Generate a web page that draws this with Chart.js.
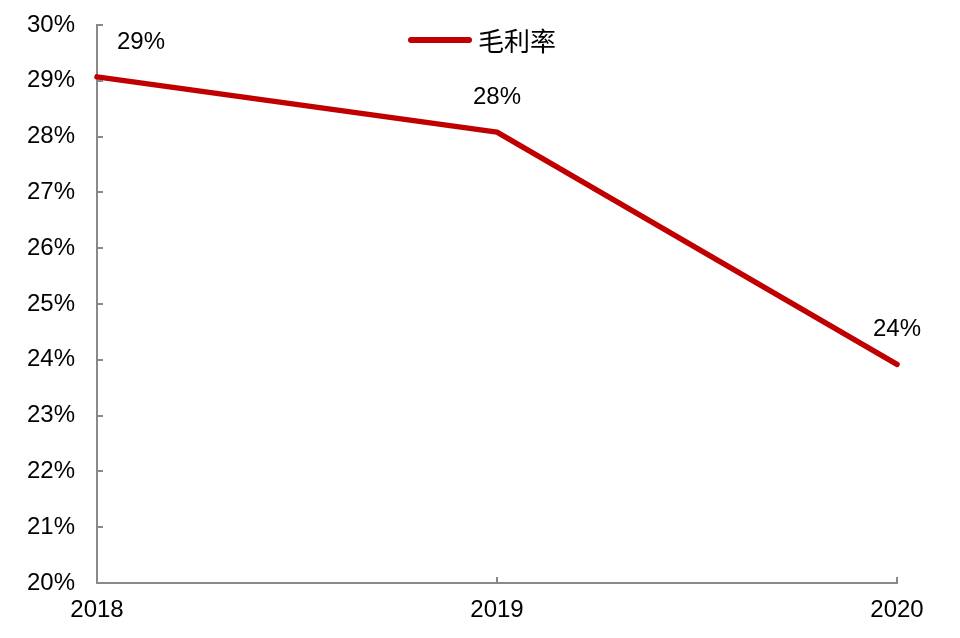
<!DOCTYPE html>
<html><head><meta charset="utf-8">
<script src="https://cdn.jsdelivr.net/npm/chart.js@4/dist/chart.umd.min.js"></script>
<style>html,body{margin:0;padding:0;background:#fff}#wrap{width:960px;height:638px}</style>
</head><body><div id="wrap"><canvas id="c" width="960" height="638"></canvas></div>
<script>
const categories = ['2018', '2019', '2020'];
const grossMargin = [29.07, 28.08, 23.92];
const valueLabels = ['29%', '28%', '24%'];
const seriesName = '毛利率';
const yMin = 20, yMax = 30, yStep = 1;

const FONT = '"Liberation Sans", Arial, sans-serif';
const RED = '#C00000';
const AXIS = '#898989';

const decor = {
  id: 'decor',
  afterDraw(chart) {
    const ctx = chart.ctx;
    const x = chart.scales.x, y = chart.scales.y;
    const area = chart.chartArea;
    ctx.save();
    ctx.strokeStyle = AXIS; ctx.lineWidth = 2;
    y.ticks.forEach((t, i) => {
      const py = Math.round(y.getPixelForTick(i));
      ctx.beginPath(); ctx.moveTo(area.left, py); ctx.lineTo(area.left + 6, py); ctx.stroke();
    });
    x.ticks.forEach((t, i) => {
      const px = Math.round(x.getPixelForTick(i));
      ctx.beginPath(); ctx.moveTo(px, area.bottom); ctx.lineTo(px, area.bottom - 6); ctx.stroke();
    });
    const meta = chart.getDatasetMeta(0);
    ctx.fillStyle = '#000'; ctx.font = '24px ' + FONT; ctx.textBaseline = 'middle';
    meta.data.forEach((pt, i) => {
      let tx = pt.x, align = 'center';
      if (i === 0) { tx = pt.x + 20; align = 'left'; }
      ctx.textAlign = align;
      ctx.fillText(valueLabels[i], tx, pt.y - 35);
    });
    const lx = 411, ly = 40;
    ctx.strokeStyle = RED; ctx.lineWidth = 6; ctx.lineCap = 'round';
    ctx.beginPath(); ctx.moveTo(lx, ly); ctx.lineTo(lx + 58, ly); ctx.stroke();
    ctx.fillStyle = '#000'; ctx.textAlign = 'left';
    ctx.font = '26px "Noto Sans CJK SC", sans-serif';
    ctx.fillText(seriesName, lx + 67, ly + 1);
    ctx.restore();
  }
};

new Chart(document.getElementById('c'), {
  type: 'line',
  data: {
    labels: categories,
    datasets: [{
      label: seriesName,
      data: grossMargin,
      borderColor: RED,
      backgroundColor: RED,
      borderWidth: 5.5,
      pointRadius: 0,
      tension: 0,
      borderCapStyle: 'round',
      borderJoinStyle: 'round',
      clip: false
    }]
  },
  options: {
    responsive: false,
    animation: false,
    layout: { padding: { left: 0, right: 63, top: 25, bottom: 0 } },
    plugins: { legend: { display: false }, tooltip: { enabled: false } },
    scales: {
      x: {
        offset: false,
        grid: { display: false, drawTicks: false },
        border: { display: true, color: AXIS, width: 2 },
        ticks: { color: '#000', font: { size: 24, family: FONT }, padding: 13, maxRotation: 0 },
        afterFit(s) { s.height = 55; s.paddingLeft = 0; s.paddingRight = 0; }
      },
      y: {
        min: yMin, max: yMax,
        grid: { display: false, drawTicks: false },
        border: { display: true, color: AXIS, width: 2 },
        ticks: { stepSize: yStep, color: '#000', font: { size: 24, family: FONT }, padding: 22,
                 callback: v => v + '%' },
        afterFit(s) { s.width = 97; s.paddingTop = 0; s.paddingBottom = 0; }
      }
    }
  },
  plugins: [decor]
});
</script></body></html>
